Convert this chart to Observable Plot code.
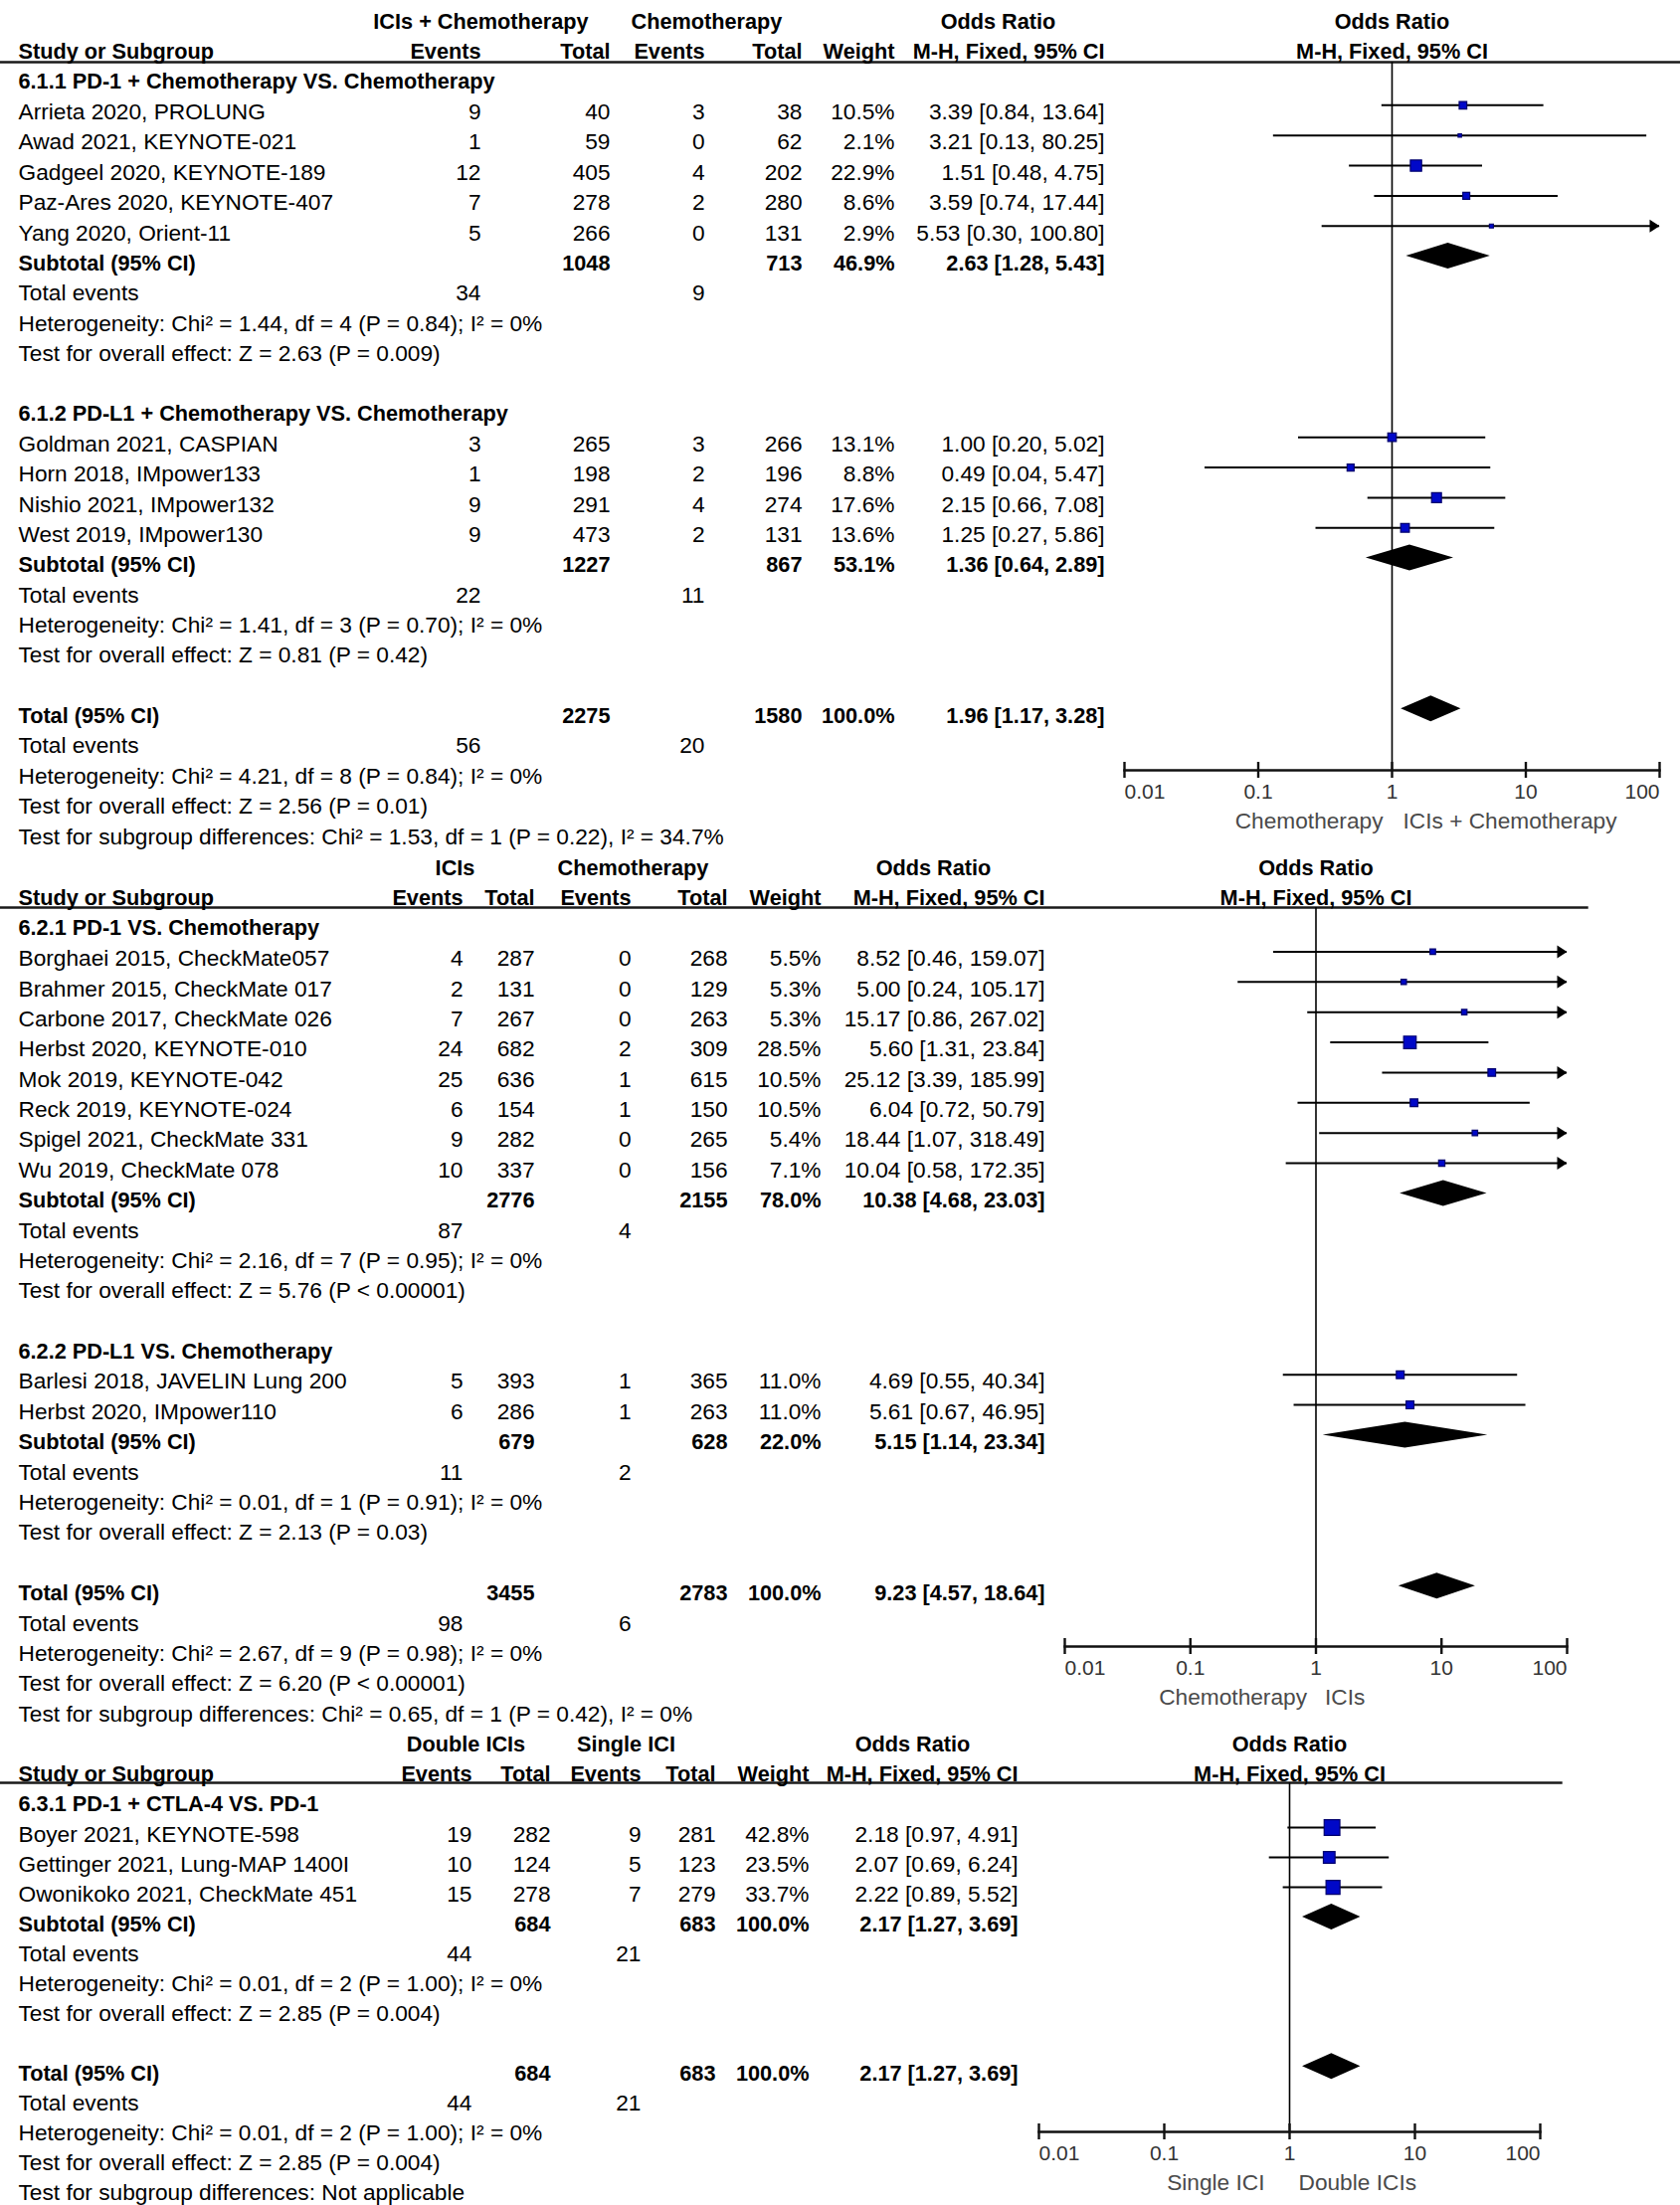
<!DOCTYPE html>
<html>
<head>
<meta charset="utf-8">
<script src="https://cdn.jsdelivr.net/npm/d3@7"></script>
<script src="https://cdn.jsdelivr.net/npm/@observablehq/plot@0.6"></script>
<style>
html, body { margin: 0; padding: 0; background: #fff; overflow: hidden; }
#chart { width: 1689px; }
#chart svg { display: block; overflow: hidden; max-width: none; }
</style>
</head>
<body>
<div id="chart"></div>
<script>
// ---------------- shared labels ----------------
const axisTicks = [0.01, 0.1, 1, 10, 100];
const colHeads = ["Study or Subgroup", "Events", "Total", "Events", "Total", "Weight", "M-H, Fixed, 95% CI"];
const orTitle = "Odds Ratio";
const subtotalLabel = "Subtotal (95% CI)";
const totalLabel = "Total (95% CI)";
const eventsLabel = "Total events";

// ---------------- panel 1 ----------------
const p1Head = ["ICIs + Chemotherapy", "Chemotherapy"];
const p1AxisLabels = ["Chemotherapy", "ICIs + Chemotherapy"];
const p1Groups = ["6.1.1 PD-1 + Chemotherapy VS. Chemotherapy", "6.1.2 PD-L1 + Chemotherapy VS. Chemotherapy"];
const p1Study = ["Arrieta 2020, PROLUNG", "Awad 2021, KEYNOTE-021", "Gadgeel 2020, KEYNOTE-189", "Paz-Ares 2020, KEYNOTE-407", "Yang 2020, Orient-11", "Goldman 2021, CASPIAN", "Horn 2018, IMpower133", "Nishio 2021, IMpower132", "West 2019, IMpower130"];
const p1StudyGroup = [0, 0, 0, 0, 0, 1, 1, 1, 1];
const p1Ev1 = [9, 1, 12, 7, 5, 3, 1, 9, 9];
const p1N1 = [40, 59, 405, 278, 266, 265, 198, 291, 473];
const p1Ev2 = [3, 0, 4, 2, 0, 3, 2, 4, 2];
const p1N2 = [38, 62, 202, 280, 131, 266, 196, 274, 131];
const p1Weight = [10.5, 2.1, 22.9, 8.6, 2.9, 13.1, 8.8, 17.6, 13.6];
const p1OR = [3.39, 3.21, 1.51, 3.59, 5.53, 1.00, 0.49, 2.15, 1.25];
const p1Lo = [0.84, 0.13, 0.48, 0.74, 0.30, 0.20, 0.04, 0.66, 0.27];
const p1Hi = [13.64, 80.25, 4.75, 17.44, 100.80, 5.02, 5.47, 7.08, 5.86];
const p1SubN1 = [1048, 1227];
const p1SubN2 = [713, 867];
const p1SubWeight = [46.9, 53.1];
const p1SubOR = [2.63, 1.36];
const p1SubLo = [1.28, 0.64];
const p1SubHi = [5.43, 2.89];
const p1SubEv1 = [34, 22];
const p1SubEv2 = [9, 11];
const p1SubHet = ["Heterogeneity: Chi² = 1.44, df = 4 (P = 0.84); I² = 0%", "Heterogeneity: Chi² = 1.41, df = 3 (P = 0.70); I² = 0%"];
const p1SubTest = ["Test for overall effect: Z = 2.63 (P = 0.009)", "Test for overall effect: Z = 0.81 (P = 0.42)"];
const p1TotN = [2275, 1580];
const p1TotWeight = 100.0;
const p1TotCI = [1.96, 1.17, 3.28];
const p1TotEv = [56, 20];
const p1TotHet = "Heterogeneity: Chi² = 4.21, df = 8 (P = 0.84); I² = 0%";
const p1TotTest = "Test for overall effect: Z = 2.56 (P = 0.01)";
const p1SubDiff = "Test for subgroup differences: Chi² = 1.53, df = 1 (P = 0.22), I² = 34.7%";

// ---------------- panel 2 ----------------
const p2Head = ["ICIs", "Chemotherapy"];
const p2AxisLabels = ["Chemotherapy", "ICIs"];
const p2Groups = ["6.2.1 PD-1 VS. Chemotherapy", "6.2.2 PD-L1 VS. Chemotherapy"];
const p2Study = ["Borghaei 2015, CheckMate057", "Brahmer 2015, CheckMate 017", "Carbone 2017, CheckMate 026", "Herbst 2020, KEYNOTE-010", "Mok 2019, KEYNOTE-042", "Reck 2019, KEYNOTE-024", "Spigel 2021, CheckMate 331", "Wu 2019, CheckMate 078", "Barlesi 2018, JAVELIN Lung 200", "Herbst 2020, IMpower110"];
const p2StudyGroup = [0, 0, 0, 0, 0, 0, 0, 0, 1, 1];
const p2Ev1 = [4, 2, 7, 24, 25, 6, 9, 10, 5, 6];
const p2N1 = [287, 131, 267, 682, 636, 154, 282, 337, 393, 286];
const p2Ev2 = [0, 0, 0, 2, 1, 1, 0, 0, 1, 1];
const p2N2 = [268, 129, 263, 309, 615, 150, 265, 156, 365, 263];
const p2Weight = [5.5, 5.3, 5.3, 28.5, 10.5, 10.5, 5.4, 7.1, 11.0, 11.0];
const p2OR = [8.52, 5.00, 15.17, 5.60, 25.12, 6.04, 18.44, 10.04, 4.69, 5.61];
const p2Lo = [0.46, 0.24, 0.86, 1.31, 3.39, 0.72, 1.07, 0.58, 0.55, 0.67];
const p2Hi = [159.07, 105.17, 267.02, 23.84, 185.99, 50.79, 318.49, 172.35, 40.34, 46.95];
const p2SubN1 = [2776, 679];
const p2SubN2 = [2155, 628];
const p2SubWeight = [78.0, 22.0];
const p2SubOR = [10.38, 5.15];
const p2SubLo = [4.68, 1.14];
const p2SubHi = [23.03, 23.34];
const p2SubEv1 = [87, 11];
const p2SubEv2 = [4, 2];
const p2SubHet = ["Heterogeneity: Chi² = 2.16, df = 7 (P = 0.95); I² = 0%", "Heterogeneity: Chi² = 0.01, df = 1 (P = 0.91); I² = 0%"];
const p2SubTest = ["Test for overall effect: Z = 5.76 (P < 0.00001)", "Test for overall effect: Z = 2.13 (P = 0.03)"];
const p2TotN = [3455, 2783];
const p2TotWeight = 100.0;
const p2TotCI = [9.23, 4.57, 18.64];
const p2TotEv = [98, 6];
const p2TotHet = "Heterogeneity: Chi² = 2.67, df = 9 (P = 0.98); I² = 0%";
const p2TotTest = "Test for overall effect: Z = 6.20 (P < 0.00001)";
const p2SubDiff = "Test for subgroup differences: Chi² = 0.65, df = 1 (P = 0.42), I² = 0%";

// ---------------- panel 3 ----------------
const p3Head = ["Double ICIs", "Single ICI"];
const p3AxisLabels = ["Single ICI", "Double ICIs"];
const p3Groups = ["6.3.1 PD-1 + CTLA-4 VS. PD-1"];
const p3Study = ["Boyer 2021, KEYNOTE-598", "Gettinger 2021, Lung-MAP 1400I", "Owonikoko 2021, CheckMate 451"];
const p3StudyGroup = [0, 0, 0];
const p3Ev1 = [19, 10, 15];
const p3N1 = [282, 124, 278];
const p3Ev2 = [9, 5, 7];
const p3N2 = [281, 123, 279];
const p3Weight = [42.8, 23.5, 33.7];
const p3OR = [2.18, 2.07, 2.22];
const p3Lo = [0.97, 0.69, 0.89];
const p3Hi = [4.91, 6.24, 5.52];
const p3SubN1 = [684];
const p3SubN2 = [683];
const p3SubWeight = [100.0];
const p3SubOR = [2.17];
const p3SubLo = [1.27];
const p3SubHi = [3.69];
const p3SubEv1 = [44];
const p3SubEv2 = [21];
const p3SubHet = ["Heterogeneity: Chi² = 0.01, df = 2 (P = 1.00); I² = 0%"];
const p3SubTest = ["Test for overall effect: Z = 2.85 (P = 0.004)"];
const p3TotN = [684, 683];
const p3TotWeight = 100.0;
const p3TotCI = [2.17, 1.27, 3.69];
const p3TotEv = [44, 21];
const p3TotHet = "Heterogeneity: Chi² = 0.01, df = 2 (P = 1.00); I² = 0%";
const p3TotTest = "Test for overall effect: Z = 2.85 (P = 0.004)";
const p3SubDiff = "Test for subgroup differences: Not applicable";

// ---------------- panel tables built from the arrays ----------------
const panels = [
  {head: p1Head, axisLabels: p1AxisLabels, groups: p1Groups, study: p1Study, studyGroup: p1StudyGroup,
   ev1: p1Ev1, n1: p1N1, ev2: p1Ev2, n2: p1N2, weight: p1Weight, or: p1OR, lo: p1Lo, hi: p1Hi,
   subN1: p1SubN1, subN2: p1SubN2, subWeight: p1SubWeight, subOR: p1SubOR, subLo: p1SubLo, subHi: p1SubHi,
   subEv1: p1SubEv1, subEv2: p1SubEv2, subHet: p1SubHet, subTest: p1SubTest,
   totN: p1TotN, totWeight: p1TotWeight, totCI: p1TotCI, totEv: p1TotEv, totHet: p1TotHet, totTest: p1TotTest, subDiff: p1SubDiff},
  {head: p2Head, axisLabels: p2AxisLabels, groups: p2Groups, study: p2Study, studyGroup: p2StudyGroup,
   ev1: p2Ev1, n1: p2N1, ev2: p2Ev2, n2: p2N2, weight: p2Weight, or: p2OR, lo: p2Lo, hi: p2Hi,
   subN1: p2SubN1, subN2: p2SubN2, subWeight: p2SubWeight, subOR: p2SubOR, subLo: p2SubLo, subHi: p2SubHi,
   subEv1: p2SubEv1, subEv2: p2SubEv2, subHet: p2SubHet, subTest: p2SubTest,
   totN: p2TotN, totWeight: p2TotWeight, totCI: p2TotCI, totEv: p2TotEv, totHet: p2TotHet, totTest: p2TotTest, subDiff: p2SubDiff},
  {head: p3Head, axisLabels: p3AxisLabels, groups: p3Groups, study: p3Study, studyGroup: p3StudyGroup,
   ev1: p3Ev1, n1: p3N1, ev2: p3Ev2, n2: p3N2, weight: p3Weight, or: p3OR, lo: p3Lo, hi: p3Hi,
   subN1: p3SubN1, subN2: p3SubN2, subWeight: p3SubWeight, subOR: p3SubOR, subLo: p3SubLo, subHi: p3SubHi,
   subEv1: p3SubEv1, subEv2: p3SubEv2, subHet: p3SubHet, subTest: p3SubTest,
   totN: p3TotN, totWeight: p3TotWeight, totCI: p3TotCI, totEv: p3TotEv, totHet: p3TotHet, totTest: p3TotTest, subDiff: p3SubDiff}
];

function buildRows(P) {
  const rows = [];
  let i = 0;
  P.groups.forEach((g, gi) => {
    rows.push({i: i++, kind: "group", label: g});
    P.study.forEach((s, si) => {
      if (P.studyGroup[si] !== gi) return;
      rows.push({i: i++, kind: "study", label: s, ev1: P.ev1[si], n1: P.n1[si], ev2: P.ev2[si], n2: P.n2[si],
        w: P.weight[si], or: P.or[si], lo: P.lo[si], hi: P.hi[si]});
    });
    rows.push({i: i++, kind: "sub", label: subtotalLabel, n1: P.subN1[gi], n2: P.subN2[gi], w: P.subWeight[gi],
      or: P.subOR[gi], lo: P.subLo[gi], hi: P.subHi[gi]});
    rows.push({i: i++, kind: "events", label: eventsLabel, ev1: P.subEv1[gi], ev2: P.subEv2[gi]});
    rows.push({i: i++, kind: "note", label: P.subHet[gi]});
    rows.push({i: i++, kind: "note", label: P.subTest[gi]});
    i++; // blank row
  });
  rows.push({i: i++, kind: "total", label: totalLabel, n1: P.totN[0], n2: P.totN[1], w: P.totWeight,
    or: P.totCI[0], lo: P.totCI[1], hi: P.totCI[2]});
  rows.push({i: i++, kind: "events", label: eventsLabel, ev1: P.totEv[0], ev2: P.totEv[1]});
  rows.push({i: i++, kind: "note", label: P.totHet});
  rows.push({i: i++, kind: "note", label: P.totTest});
  rows.push({i: i++, kind: "note", label: P.subDiff});
  return rows;
}

// ---------------- drawing ----------------
const FONT = "'Liberation Sans', Arial, Helvetica, sans-serif";
const FS = 22.7;   // regular text
const FSB = 21.7;  // bold text
const W = 1689;

// filled right-pointing arrowhead, tip at the symbol origin
const arrowRight = {
  draw(ctx) { ctx.moveTo(0, 0); ctx.lineTo(-10, -6.5); ctx.lineTo(-10, 6.5); ctx.closePath(); }
};

const fmtInt = (v) => String(v);
const fmtW = (v) => v.toFixed(1) + "%";
const fmtCI = (r) => `${r.or.toFixed(2)} [${r.lo.toFixed(2)}, ${r.hi.toFixed(2)}]`;

function drawPanel(P, L) {
  const rows = buildRows(P);
  const ml = L.x001, mr = W - L.x100, mt = L.top, mb = L.height - L.axisY;
  const fh = L.axisY - L.top;
  const isBold = (r) => r.kind === "group" || r.kind === "sub" || r.kind === "total";
  const studies = rows.filter((r) => r.kind === "study");
  const summaries = rows.filter((r) => r.kind === "sub" || r.kind === "total");
  const h = L.diamondHalf / L.step;
  const diamond = summaries.flatMap((r) => [
    {z: r.i, y: r.i - h, x1: r.or, x2: r.or},
    {z: r.i, y: r.i, x1: r.lo, x2: r.hi},
    {z: r.i, y: r.i + h, x1: r.or, x2: r.or}
  ]);
  const arrows = studies.filter((r) => r.hi > 100);

  const marks = [];
  // header rule
  marks.push(Plot.frame({anchor: "top", insetLeft: -ml, insetRight: -(L.ruleEnd - L.x100), stroke: "#1a1a1a", strokeWidth: 2.4}));
  // line of no effect
  marks.push(Plot.ruleX([1], {stroke: "#000", strokeWidth: 1.6}));
  // axis line and ticks
  marks.push(Plot.frame({anchor: "bottom", stroke: "#111", strokeWidth: 2.4}));
  marks.push(Plot.ruleX(axisTicks, {x: (d) => d, insetTop: fh - 8, insetBottom: -8, stroke: "#111", strokeWidth: 2.4}));
  // tick labels: the end labels sit inside the axis ends
  const tickOpts = {tickSize: 0, tickPadding: 14, label: null, fontSize: 21, color: "#333", tickFormat: (d) => String(d)};
  marks.push(Plot.axisX({...tickOpts, ticks: axisTicks.slice(1, -1)}));
  marks.push(Plot.axisX({...tickOpts, ticks: axisTicks.slice(0, 1), textAnchor: "start"}));
  marks.push(Plot.axisX({...tickOpts, ticks: axisTicks.slice(-1), textAnchor: "end"}));
  // favour labels
  marks.push(Plot.text([P.axisLabels[0]], {x: () => 1, text: (d) => d, frameAnchor: "bottom", lineAnchor: "middle",
    textAnchor: "end", dx: -L.gapL, dy: 51, fontSize: FS, fill: "#4a4a4a"}));
  marks.push(Plot.text([P.axisLabels[1]], {x: () => 1, text: (d) => d, frameAnchor: "bottom", lineAnchor: "middle",
    textAnchor: "start", dx: L.gapR, dy: 51, fontSize: FS, fill: "#4a4a4a"}));
  // confidence intervals
  marks.push(Plot.ruleY(studies, {y: "i", x1: (d) => Math.max(d.lo, 0.01), x2: (d) => Math.min(d.hi, 100),
    dy: L.mdy, stroke: "#000", strokeWidth: 2}));
  marks.push(Plot.dot(arrows, {x: (d) => Math.min(d.hi, 100), y: "i", symbol: arrowRight, fill: "#000", stroke: "none", dy: L.mdy}));
  // weighted squares
  marks.push(Plot.dot(studies, {x: "or", y: "i", r: "w", symbol: "square", fill: "#0008c8", stroke: "#00006e",
    strokeWidth: 1.2, dy: L.mdy}));
  // pooled diamonds
  marks.push(Plot.areaX(diamond, {y: "y", x1: "x1", x2: "x2", z: "z", fill: "#000", curve: "linear", dy: L.mdy}));

  // table columns
  const cols = [
    {key: "label", px: L.labelX, anchor: "start", fmt: (r) => r.label},
    {key: "ev1", px: L.cols[0], anchor: "end", fmt: (r) => fmtInt(r.ev1)},
    {key: "n1", px: L.cols[1], anchor: "end", fmt: (r) => fmtInt(r.n1)},
    {key: "ev2", px: L.cols[2], anchor: "end", fmt: (r) => fmtInt(r.ev2)},
    {key: "n2", px: L.cols[3], anchor: "end", fmt: (r) => fmtInt(r.n2)},
    {key: "w", px: L.cols[4], anchor: "end", fmt: (r) => fmtW(r.w)},
    {key: "or", px: L.cols[5], anchor: "end", fmt: fmtCI}
  ];
  for (const c of cols) {
    for (const bold of [false, true]) {
      const items = rows.filter((r) => r[c.key] != null && isBold(r) === bold);
      if (!items.length) continue;
      marks.push(Plot.text(items, {y: "i", text: c.fmt, frameAnchor: "left", lineAnchor: "middle", dx: c.px - ml, dy: 1,
        textAnchor: c.anchor, fontSize: bold ? FSB : FS, fontWeight: bold ? "bold" : "normal", fill: "#000"}));
    }
  }
  // header row 1 (row -2) and 2 (row -1)
  const heads = [
    {t: P.head[0], y: -2, px: L.head[0], anchor: "middle"},
    {t: P.head[1], y: -2, px: L.head[1], anchor: "middle"},
    {t: orTitle, y: -2, px: L.head[2], anchor: "middle"},
    {t: colHeads[0], y: -1, px: L.labelX, anchor: "start"},
    ...colHeads.slice(1).map((t, k) => ({t, y: -1, px: L.cols[k], anchor: "end"}))
  ];
  for (const hd of heads) {
    marks.push(Plot.text([hd], {y: "y", text: "t", frameAnchor: "left", lineAnchor: "middle", dx: hd.px - ml, dy: 1,
      textAnchor: hd.anchor, fontSize: FSB, fontWeight: "bold", fill: "#000"}));
  }
  marks.push(Plot.text([{t: orTitle, y: -2}, {t: colHeads[6], y: -1}], {x: () => 1, y: "y", text: "t", dy: 1,
    textAnchor: "middle", fontSize: FSB, fontWeight: "bold", fill: "#000"}));

  return Plot.plot({
    width: W,
    height: L.height,
    marginLeft: ml, marginRight: mr, marginTop: mt, marginBottom: mb,
    x: {type: "log", domain: [0.01, 100]},
    y: {type: "linear", domain: [0, 1], range: [L.row0, L.row0 + L.step], axis: null},
    r: {type: "sqrt", domain: [0, 100], range: [0, L.rMax]},
    style: {fontFamily: FONT, fontSize: FS + "px", background: "#fff", color: "#000", overflow: "hidden"},
    marks
  });
}

const layouts = [
  {height: 856, row0: 81, step: 30.35, top: 62, axisY: 774, x001: 1130, x100: 1668, ruleEnd: 1689, labelX: 18,
   cols: [483, 613, 708, 806, 899, 1110], head: [483, 710, 1003], gapL: 9, gapR: 11, rMax: 13.3, mdy: -6, diamondHalf: 13},
  {height: 881, row0: 76, step: 30.38, top: 56, axisY: 799, x001: 1070, x100: 1575, ruleEnd: 1595, labelX: 18,
   cols: [465, 537, 634, 731, 825, 1050], head: [457, 636, 938], gapL: 9, gapR: 9, rMax: 13.3, mdy: -6, diamondHalf: 13},
  {height: 480, row0: 76, step: 30.02, top: 55, axisY: 406, x001: 1044, x100: 1548, ruleEnd: 1569, labelX: 18,
   cols: [474, 553, 644, 719, 813, 1023], head: [468, 629, 917], gapL: 25, gapR: 9, rMax: 13.6, mdy: -6, diamondHalf: 13}
];

const chart = document.getElementById("chart");
panels.forEach((P, k) => chart.appendChild(drawPanel(P, layouts[k])));
</script>
</body>
</html>
